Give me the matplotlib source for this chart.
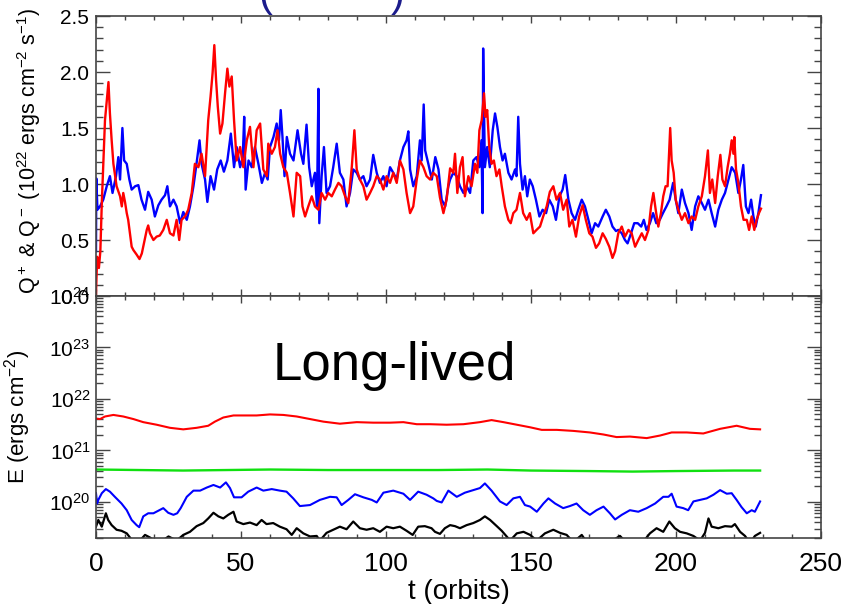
import numpy as np
import matplotlib
matplotlib.use('Agg')
import matplotlib.pyplot as plt
from matplotlib.ticker import MultipleLocator, LogLocator, LogFormatterSciNotation, NullFormatter

plt.rcParams['font.family'] = ['Liberation Sans', 'DejaVu Sans']
plt.rcParams['mathtext.fontset'] = 'custom'
plt.rcParams['mathtext.rm'] = 'Liberation Sans'
plt.rcParams['mathtext.it'] = 'Liberation Sans:italic'

# heating rate Q+ (red) and cooling rate Q- (blue), 1e22 ergs/cm^2/s
qred_t = [0.0, 0.4, 1.0, 1.5, 2.0, 3.1, 4.3, 4.8, 5.4, 6.0, 6.6, 7.1, 8.3, 8.9, 9.4, 10.0, 10.6, 11.1, 11.7, 12.3,
          12.9, 14.0, 15.0, 15.8, 17.5, 18.0, 18.6, 19.8, 20.9, 22.0, 23.2, 24.4, 25.5, 26.7, 27.8, 28.7, 29.5, 30.7,
          31.8, 33.0, 34.1, 35.3, 36.4, 37.6, 38.7, 39.5, 40.2, 40.8, 41.4, 42.0, 42.8, 43.6, 44.5, 45.3, 46.0, 46.8,
          47.6, 48.5, 49.7, 50.8, 52.0, 53.1, 54.3, 55.4, 56.6, 57.7, 58.9, 59.4, 60.6, 61.7, 62.6, 63.5, 64.6, 65.8,
          66.9, 68.1, 69.2, 70.4, 71.2, 72.1, 73.2, 74.4, 75.5, 76.7, 77.8, 79.0, 80.1, 81.3, 82.4, 83.6, 84.7, 85.9,
          87.0, 88.2, 89.1, 89.9, 91.0, 92.2, 93.3, 94.5, 95.6, 96.8, 97.9, 99.1, 100.2, 101.4, 102.5, 103.7, 104.8,
          106.0, 107.1, 108.3, 109.4, 110.6, 111.7, 112.9, 114.0, 115.2, 116.3, 117.5, 118.6, 119.8, 120.9, 122.1,
          123.2, 123.8, 124.6, 125.5, 126.4, 127.2, 128.4, 129.5, 130.7, 131.5, 132.2, 133.0, 133.8, 134.3, 134.9,
          135.6, 136.4, 137.2, 138.1, 139.1, 139.9, 141.0, 142.2, 143.0, 143.9, 145.0, 146.2, 147.3, 148.5, 149.6,
          150.8, 151.9, 153.1, 154.2, 155.4, 156.5, 157.7, 158.8, 160.0, 161.1, 162.3, 163.2, 164.3, 165.5, 166.6,
          167.8, 168.9, 170.1, 171.2, 172.4, 173.5, 174.7, 175.8, 177.0, 178.1, 179.0, 180.1, 181.3, 182.4, 183.6,
          184.7, 185.9, 187.0, 188.2, 189.3, 190.5, 191.4, 192.2, 193.0, 193.9, 194.8, 195.6, 196.4, 197.1, 197.6,
          198.0, 198.5, 199.2, 199.9, 200.8, 202.0, 203.1, 204.3, 205.4, 206.6, 207.7, 208.9, 210.0, 211.0, 211.7,
          212.5, 213.5, 214.4, 215.3, 216.0, 216.9, 217.8, 218.6, 219.2, 219.8, 220.1, 220.7, 221.5, 222.4, 223.3,
          224.4, 225.2, 226.1, 227.0, 227.8, 228.6, 229.3]
qred = [0.02, 0.35, 0.25, 0.40, 0.83, 1.57, 1.91, 1.63, 1.39, 1.18, 1.07, 0.98, 0.89, 0.80, 0.92, 0.84, 0.74, 0.68, 0.56,
        0.44, 0.41, 0.37, 0.33, 0.38, 0.59, 0.63, 0.56, 0.50, 0.53, 0.54, 0.59, 0.68, 0.56, 0.54, 0.68, 0.50, 0.68, 0.71,
        0.77, 0.92, 1.18, 1.15, 1.27, 1.07, 1.57, 1.78, 1.99, 2.24, 1.93, 1.69, 1.45, 1.54, 1.81, 2.03, 1.87, 1.96,
        1.57, 1.21, 1.33, 1.15, 1.39, 1.51, 1.15, 1.48, 1.54, 1.13, 1.07, 1.36, 1.27, 1.33, 1.48, 1.27, 1.15, 1.10,
        0.92, 0.71, 1.10, 1.07, 0.80, 0.71, 0.80, 0.89, 0.80, 0.77, 0.92, 0.86, 0.92, 0.89, 0.95, 1.01, 0.98, 0.89,
        0.83, 1.15, 1.48, 1.13, 1.04, 0.98, 0.86, 0.92, 0.98, 1.07, 1.04, 0.95, 1.07, 1.01, 1.10, 1.01, 1.21,
        1.13, 0.92, 0.74, 0.80, 1.04, 1.21, 1.15, 1.07, 1.04, 1.10, 1.07, 0.88, 0.74, 0.86, 1.14,
        1.10, 1.27, 0.92, 1.15, 1.24, 0.89, 1.07, 0.98, 1.18, 1.10, 1.48, 1.57, 1.81, 1.60, 1.66,
        1.33, 1.18, 1.21, 1.07, 1.13, 0.98, 0.80, 0.68, 0.65, 0.74, 0.77, 0.92, 0.74, 0.68, 0.74,
        0.56, 0.59, 0.62, 0.71, 0.80, 0.93, 0.98, 0.86, 0.92, 0.77, 0.86, 0.62, 0.68, 0.53, 0.71,
        0.81, 0.68, 0.56, 0.53, 0.43, 0.47, 0.56, 0.51, 0.44, 0.34, 0.40, 0.56, 0.62, 0.53, 0.59,
        0.56, 0.44, 0.50, 0.56, 0.50, 0.59, 0.80, 0.92, 0.77, 0.62, 0.74, 0.89, 0.98, 0.98, 1.27,
        1.50, 1.21, 1.10, 0.86, 0.77, 0.68, 0.74, 0.65, 0.71, 0.68, 0.80, 0.89, 1.07, 1.30, 0.92,
        1.04, 0.83, 1.07, 1.26, 1.04, 0.98, 1.15, 1.27, 1.39, 1.27, 1.42, 1.13, 1.01, 0.80, 0.68,
        0.68, 0.59, 0.71, 0.59, 0.68, 0.74, 0.78]

qblue_t = [0.0, 0.1, 0.5, 1.4, 2.5, 3.7, 4.8, 5.7, 6.9, 7.7, 8.3, 9.1, 9.7, 10.6, 11.5, 12.3, 13.5, 14.6, 15.7, 16.9,
           18.0, 19.2, 20.3, 21.5, 22.6, 23.8, 24.6, 25.5, 26.7, 27.8, 29.0, 30.1, 31.3, 32.4, 33.6, 34.5, 35.7, 36.4,
           37.6, 38.4, 39.5, 40.7, 41.8, 43.0, 44.1, 45.3, 46.5, 47.6, 48.5, 49.7, 50.6, 51.1, 51.6, 52.6, 53.7, 54.8,
           56.0, 57.2, 58.3, 59.2, 60.0, 61.2, 62.3, 63.1, 63.7, 64.3, 65.0, 65.8, 66.9, 68.1, 69.5, 70.7, 71.5, 72.6,
           73.5, 74.4, 75.5, 76.2, 76.7, 77.0, 77.8, 78.6, 79.5, 80.7, 81.8, 83.0, 84.1, 85.3, 86.4, 87.6, 88.7, 89.9,
           91.0, 92.2, 93.3, 94.5, 95.6, 96.8, 97.9, 99.1, 100.2, 101.4, 102.5, 103.7, 104.8, 106.0, 107.1, 107.7,
           108.3, 109.4, 110.6, 111.7, 112.3, 113.0, 113.5, 114.6, 115.8, 117.0, 118.1, 119.2, 120.4, 121.5, 122.1,
           123.2, 124.4, 125.5, 126.7, 127.8, 129.0, 130.1, 131.2, 132.2, 132.9, 133.3, 133.5, 134.1, 134.9, 135.8,
           136.8, 137.6, 138.4, 139.3, 140.2, 141.0, 142.2, 143.3, 144.5, 145.0, 145.6, 146.2, 147.1, 147.9, 148.7,
           149.6, 150.6, 151.7, 152.9, 154.0, 155.2, 156.3, 157.5, 158.6, 159.8, 160.9, 161.8, 162.9, 164.0, 165.2,
           166.3, 167.5, 168.6, 169.8, 170.9, 172.1, 173.2, 174.7, 175.8, 177.0, 178.1, 179.3, 180.1, 181.3, 182.4,
           183.3, 184.5, 185.6, 186.8, 188.0, 188.9, 189.8, 191.0, 192.1, 193.2, 194.4, 195.5, 196.7, 197.8, 199.0,
           199.9, 200.8, 202.0, 203.1, 204.3, 205.4, 206.6, 207.7, 208.9, 210.0, 211.2, 212.3, 213.5, 214.6, 215.8,
           216.9, 218.1, 219.2, 220.4, 221.5, 222.4, 223.2, 224.1, 225.0, 225.9, 226.7, 227.5, 228.4, 229.3]
qblue = [0.40, 1.05, 0.77, 0.80, 0.86, 0.98, 1.07, 0.92, 1.07, 1.24, 1.04, 1.50, 1.21, 1.18, 1.04, 0.95, 0.98, 0.99,
         0.86, 0.77, 0.93, 0.86, 0.71, 0.81, 0.86, 0.90, 0.98, 0.80, 0.86, 0.80, 0.65, 0.75, 0.68, 0.80, 0.98, 1.15,
         1.39, 1.18, 1.04, 0.84, 1.07, 0.95, 1.13, 1.21, 1.11, 1.21, 1.45, 1.15, 1.33, 1.15, 1.24, 1.60, 0.95, 1.21,
         1.15, 1.33, 1.18, 1.01, 1.10, 1.04, 1.33, 1.42, 1.54, 1.39, 1.66, 1.42, 1.07, 1.42, 1.27, 1.21, 1.48, 1.27,
         1.18, 1.53, 1.15, 0.98, 1.10, 0.80, 1.85, 0.65, 1.07, 1.33, 0.92, 0.98, 1.15, 1.36, 1.10, 1.04, 0.80, 0.92,
         1.13, 1.10, 1.04, 1.07, 0.98, 1.04, 1.26, 1.10, 1.01, 1.07, 0.98, 1.15, 1.10, 1.04, 1.21, 1.33, 1.39, 1.47,
         1.13, 0.98, 1.07, 1.39, 1.21, 1.71, 1.30, 1.18, 1.04, 1.24, 1.13, 0.86, 0.80, 0.98, 1.04,
         1.10, 1.07, 0.98, 0.92, 0.98, 0.92, 1.21, 1.24, 1.15, 1.39, 0.74, 2.21, 1.15, 1.33, 1.15,
         1.48, 1.63, 1.51, 1.33, 1.21, 1.27, 1.10, 1.04, 1.13, 1.07, 1.60, 1.18, 0.95, 1.07, 0.89,
         1.04, 0.98, 0.86, 0.71, 0.77, 0.74, 0.86, 0.80, 0.68, 0.89, 0.95, 1.08, 0.86, 0.74, 0.68,
         0.77, 0.86, 0.80, 0.68, 0.56, 0.65, 0.62, 0.71, 0.77, 0.71, 0.62, 0.58, 0.59, 0.56, 0.50,
         0.47, 0.56, 0.65, 0.65, 0.62, 0.68, 0.59, 0.65, 0.74, 0.65, 0.68, 0.74, 0.80, 0.86, 1.01,
         0.86, 0.74, 0.95, 0.83, 0.74, 0.59, 0.80, 0.89, 0.83, 0.77, 0.86, 0.74, 0.62, 0.77, 0.86,
         0.92, 1.04, 1.15, 1.10, 0.92, 1.04, 1.17, 0.80, 0.74, 0.86, 0.71, 0.62, 0.74, 0.90]

# energies, log10(E / ergs cm^-2)
ered_t = [0, 1.4, 3.1, 6, 9.4, 12.9, 16.3, 20.9, 25.5, 30.1, 34.7, 38.7, 41, 43.9, 47.4, 51.9, 55.4, 60, 64.6, 69.2,
          73.8, 78.4, 84.1, 89.9, 95.6, 101.4, 106, 110.6, 115.2, 120.9, 126.7, 132.4, 136.4, 140.5, 145.1, 149.7,
          153.7, 158.9, 164.6, 170.3, 175, 179.5, 184.1, 189.9, 194.5, 198.5, 203.7, 209.4, 215.2, 220.9, 225.5, 229]
ered = [21.62, 21.61, 21.66, 21.69, 21.66, 21.61, 21.55, 21.50, 21.44, 21.41, 21.44, 21.48, 21.56, 21.64, 21.68, 21.68,
        21.68, 21.70, 21.69, 21.66, 21.61, 21.56, 21.52, 21.55, 21.54, 21.54, 21.55, 21.51, 21.51, 21.50, 21.51, 21.55,
        21.59, 21.55, 21.50, 21.45, 21.40, 21.40, 21.38, 21.35, 21.31, 21.26, 21.27, 21.24, 21.29, 21.35, 21.35, 21.33,
        21.42, 21.48, 21.42, 21.41]

egreen_t = [0, 15, 30, 45, 60, 80, 100, 118, 135, 150, 170, 185, 200, 220, 229]
egreen = [20.63, 20.62, 20.61, 20.62, 20.63, 20.62, 20.62, 20.62, 20.63, 20.61, 20.60, 20.59, 20.60, 20.61, 20.61]

eblue_t = [0, 0.4, 0.8, 2, 3.4, 4.8, 6.5, 8.8, 10.6, 12.3, 14, 14.9, 16.3, 18, 19.8, 21.5, 23.2, 24.9, 26.7, 28,
           29.2, 31.3, 33.6, 35.9, 38.2, 40.5, 42.8, 44.8, 46.2, 47.6, 50.2, 52.5, 55.4, 57.7, 60.6, 63.4, 65.7, 68,
           70.3, 73.8, 77.2, 80.7, 83, 84.7, 87, 89.3, 92.2, 95.1, 96.8, 99.1, 102.5, 106, 108.3, 111.1, 114, 116.3,
           117.5, 119.2, 121.5, 124.4, 127.2, 130.1, 132.4, 134.1, 136.4, 139.3, 141.6, 143.9, 146.2, 147.9, 149.7,
           152, 154.3, 156, 158.3, 161.1, 163.4, 165.7, 168, 170.3, 172.6, 175, 177.2, 179, 181.3, 184.1, 187, 189.9,
           192.8, 195.6, 197.4, 198.5, 200.2, 202.5, 204.2, 206, 208.3, 210.6, 212.9, 215.2, 217.5, 219.2, 220.9,
           222.6, 224.4, 226.1, 227.2, 229]
eblue = [20.17, 19.97, 20.04, 20.17, 20.25, 20.20, 20.10, 19.97, 19.84, 19.65, 19.55, 19.51, 19.72, 19.78, 19.78, 19.83,
         19.88, 19.79, 19.75, 19.78, 19.88, 20.10, 20.22, 20.22, 20.28, 20.33, 20.28, 20.38, 20.27, 20.09, 20.09, 20.20,
         20.28, 20.22, 20.25, 20.22, 20.20, 20.07, 19.92, 19.94, 20.04, 20.10, 20.09, 19.94, 20.04, 20.15, 20.09, 20.04,
         19.99, 20.18, 20.22, 20.16, 20.04, 20.20, 20.14, 20.07, 20.02, 19.99, 20.22, 20.10, 20.18, 20.23, 20.27, 20.36,
         20.22, 20.01, 19.94, 20.07, 20.10, 19.94, 19.91, 19.81, 19.97, 20.07, 19.97, 19.88, 19.92, 19.97, 19.84, 19.75,
         19.84, 19.91, 19.78, 19.66, 19.75, 19.84, 19.81, 19.88, 19.97, 20.10, 20.10, 20.16, 19.91, 19.88, 19.84, 20.01,
         20.04, 20.07, 20.14, 20.23, 20.16, 20.17, 20.04, 19.90, 19.78, 19.84, 19.81, 20.01]

eblack_t = [0, 0.8, 2, 3.4, 4.2, 5.4, 7.1, 8.8, 10.6, 11.7, 12.9, 15, 16.9, 18.6, 20.9, 23, 25, 27.8, 30.1, 32.4, 34.7,
            37, 38.7, 40.5, 42.2, 43.9, 45.6, 47.4, 48.5, 50.8, 53.1, 55.4, 57.1, 58.8, 61.1, 63.4, 65.7, 67.5, 69.2,
            71.5, 73.8, 76.1, 77.2, 79.5, 81.8, 84.1, 86.4, 88.7, 91, 93.3, 95.6, 97.9, 100.2, 102.5, 104.8, 107.1,
            109.2, 111.1, 113.4, 115.7, 116.9, 118.6, 120.3, 122.1, 123.8, 125.5, 127.8, 130.1, 132.4, 134.1, 135.9,
            138.2, 139.9, 141.6, 142.8, 145.1, 147.4, 149.7, 152, 154.8, 157.7, 160, 162.3, 164.6, 167.5, 169.2, 175,
            180.7, 183, 187.6, 191, 193.3, 195.6, 197.7, 199.6, 201.4, 203.7, 206, 208.3, 210, 211.2, 212.3, 214.6,
            216.9, 219.2, 220.3, 222.1, 223.8, 225.5, 227.2, 229]
eblack = [19.52, 19.65, 19.52, 19.78, 19.65, 19.55, 19.46, 19.44, 19.39, 19.31, 19.22, 19.24, 19.36, 19.31, 19.22, 19.25,
          19.33, 19.25, 19.36, 19.42, 19.53, 19.59, 19.68, 19.79, 19.72, 19.68, 19.75, 19.81, 19.62, 19.57, 19.60, 19.55,
          19.65, 19.57, 19.59, 19.52, 19.47, 19.36, 19.49, 19.39, 19.33, 19.34, 19.25, 19.40, 19.46, 19.52, 19.47, 19.62,
          19.49, 19.46, 19.49, 19.42, 19.52, 19.49, 19.52, 19.44, 19.36, 19.52, 19.53, 19.49, 19.42, 19.38, 19.49, 19.55,
          19.53, 19.49, 19.55, 19.59, 19.65, 19.72, 19.65, 19.53, 19.44, 19.33, 19.25, 19.39, 19.42, 19.36, 19.25, 19.39,
          19.46, 19.40, 19.36, 19.22, 19.36, 19.22, 19.15, 19.34, 19.2, 19.15, 19.39, 19.49, 19.42, 19.62, 19.49, 19.42,
          19.39, 19.34, 19.25, 19.40, 19.68, 19.52, 19.49, 19.53, 19.52, 19.57, 19.42, 19.34, 19.2, 19.34, 19.40]

RED = '#ff0000'
BLUE = '#0000ff'
GREEN = '#10e010'
AXCOL = '#444444'

fig = plt.figure(figsize=(8.45, 6.04), dpi=100)
L, R = 96 / 845, 821 / 845
ax1 = fig.add_axes([L, 1 - 296 / 604, R - L, 280 / 604])
ax2 = fig.add_axes([L, 1 - 538 / 604, R - L, 242 / 604])


def style(ax):
    for s in ax.spines.values():
        s.set_color(AXCOL)
        s.set_linewidth(1.2)
    ax.tick_params(which='both', direction='in', top=True, right=True, colors=AXCOL, labelcolor='black')
    ax.tick_params(axis='x', which='major', length=5, width=1.0)
    ax.tick_params(axis='x', which='minor', length=3, width=1.0)
    ax.set_xlim(0, 250)
    ax.xaxis.set_major_locator(MultipleLocator(50))
    ax.xaxis.set_minor_locator(MultipleLocator(10))


# top panel: Q+ and Q-
style(ax1)
ax1.plot(qblue_t, qblue, color=BLUE, lw=1.7)
ax1.plot(qred_t, qred, color=RED, lw=1.7)
ax1.set_ylim(0, 2.5)
ax1.yaxis.set_major_locator(MultipleLocator(0.5))
ax1.yaxis.set_minor_locator(MultipleLocator(0.1))
ax1.yaxis.set_major_formatter(plt.FormatStrFormatter('%.1f'))
ax1.tick_params(axis='y', which='major', length=10, width=1.0, labelsize=15, pad=5)
ax1.tick_params(axis='y', which='minor', length=5, width=1.0)
ax1.tick_params(axis='x', labelbottom=False)
ax1.set_ylabel(r'Q$^+$ & Q$^-$ (10$^{22}$ ergs cm$^{-2}$ s$^{-1}$)', fontsize=15.5)
ax1.yaxis.set_label_coords(-0.073, 0.52)

# bottom panel: energies on a log axis
style(ax2)
ax2.plot(eblack_t, 10 ** np.array(eblack), color='black', lw=1.6)
ax2.plot(eblue_t, 10 ** np.array(eblue), color=BLUE, lw=1.5)
ax2.plot(egreen_t, 10 ** np.array(egreen), color=GREEN, lw=1.7)
ax2.plot(ered_t, 10 ** np.array(ered), color=RED, lw=1.5)
ax2.set_yscale('log')
ax2.set_ylim(10 ** 19.3, 1e24)
ax2.yaxis.set_major_locator(LogLocator(base=10, numticks=10))
ax2.yaxis.set_minor_locator(LogLocator(base=10, subs=np.arange(2, 10), numticks=20))
ax2.yaxis.set_major_formatter(LogFormatterSciNotation())
ax2.yaxis.set_minor_formatter(NullFormatter())
ax2.tick_params(axis='y', which='major', length=10, width=1.0, labelsize=15, pad=4)
ax2.tick_params(axis='y', which='minor', length=5, width=1.0)
ax2.tick_params(axis='x', which='major', labelsize=19, pad=10)
ax2.set_ylabel(r'E (ergs cm$^{-2}$)', fontsize=16)
ax2.yaxis.set_label_coords(-0.087, 0.5)
ax2.set_xlabel('t (orbits)', fontsize=20, labelpad=2)

fig.text(273 / 845, 1 - 380 / 604, 'Long-lived', fontsize=38, ha='left', va='baseline')

# heading above the panels, running off the top edge
fig.text(265 / 845, 1 - 6 / 604, '(', fontsize=30, color='#1c1c8c', ha='center', va='baseline')
fig.text(398 / 845, 1 - 6 / 604, ')', fontsize=30, color='#1c1c8c', ha='center', va='baseline')

fig.savefig('out.png', dpi=100)
